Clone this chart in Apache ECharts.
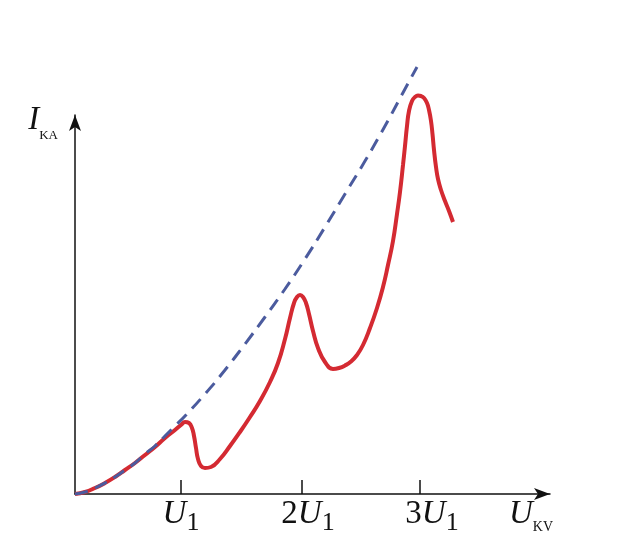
<!DOCTYPE html>
<html>
<head>
<meta charset="utf-8">
<script src="https://cdn.jsdelivr.net/npm/echarts@6/dist/echarts.min.js"></script>
<style>html,body{margin:0;padding:0;background:#fff}#c{width:625px;height:547px}</style>
</head>
<body>
<div id="c"></div>
<script>
// Voltage positions of the tick marks (arbitrary units) and their labels
const tickValues = [106, 227, 345];
const tickLabels = ['{u|U}{s|1}', '{n2|2}{u|U}{s|1}', '{n3|3}{u|U}{s|1}'];

// Measured anode current (red curve): [U, I]
const currentCurve = [
  [0,0],[10,2],[20,6],[30,11],[40,17],[50,24],[60,31],[70,39],[80,47],[90,56],[100,64],
  [106,69],[110,72],[114,71],[117,66],[119,58],[121,46],[123,35],[126,28],[130,26],[136,27],
  [145,35],[155,48],[165,62],[175,77],[185,93],[195,112],[203,131],[210,155],[215,176],
  [219,191],[222,197],[225,199],[228,197],[231,191],[234,180],[238,163],[243,146],[250,132],
  [258,125],[264,126],[270,128.5],[276,132.5],[282,139],[288,149],[295,166],[302,186],[308,207],
  [313,229],[318,253],[322,280],[325,302],[328,329],[330,348],[332,368],[334,383],[337,393],
  [340,397],[343,398.5],[346,398],[349,396],[352,391],[354,384],[356,373],[357.5,360],[359,344],
  [361,327],[363,315],[366,304],[370,293],[374,283],[378,272]
];

// Space-charge limited current without collisions (blue dashed curve): [U, I]
const idealCurve = [
  [0,0],[10,2],[20,6],[30,11],[40,17],[50,24],[60,31],[70,40],[80,48],[90,58],[100,68],
  [110,78],[130,100],[150,124],[170,150],[190,177],[210,205],[230,235],[250,267],[270,300],
  [290,333],[310,368],[330,405],[342,427]
];

const serif = '"Liberation Serif","DejaVu Serif",serif';
const chart = echarts.init(document.getElementById('c'), null, {renderer: 'canvas'});
chart.setOption({
  animation: false,
  backgroundColor: '#ffffff',
  grid: {left: 75, top: 115, width: 475, height: 379, containLabel: false},
  xAxis: {
    type: 'value', min: 0, max: 475,
    name: '{u|U}{s|KV}',
    nameLocation: 'end',
    nameGap: 3,
    nameTextStyle: {
      align: 'right', verticalAlign: 'top',
      rich: {
        u: {fontFamily: serif, fontStyle: 'italic', fontSize: 33, color: '#111', padding: [4, 0, 0, 0], verticalAlign: 'top'},
        s: {fontFamily: serif, fontSize: 14, color: '#111', padding: [26, 0, 0, 0], verticalAlign: 'top'}
      }
    },
    axisLine: {show: true, symbol: ['none', 'arrow'], symbolSize: [9, 16], lineStyle: {color: '#111', width: 1.5}},
    axisTick: {show: true, inside: true, length: 14, customValues: tickValues, lineStyle: {color: '#111', width: 1.5}},
    axisLabel: {
      show: true, margin: 0, customValues: tickValues,
      formatter: function (v) { const i = tickValues.indexOf(v); return i >= 0 ? tickLabels[i] : ''; },
      rich: {
        u: {fontFamily: serif, fontStyle: 'italic', fontSize: 33, color: '#111', padding: [4, 0, 0, 0], verticalAlign: 'top'},
        n2: {fontFamily: serif, fontSize: 33, color: '#111', padding: [4, 0, 0, 12], verticalAlign: 'top'},
        n3: {fontFamily: serif, fontSize: 33, color: '#111', padding: [4, 0, 0, 24], verticalAlign: 'top'},
        s: {fontFamily: serif, fontSize: 26, color: '#111', padding: [16, 0, 0, 0], verticalAlign: 'top'}
      }
    },
    splitLine: {show: false}
  },
  yAxis: {
    type: 'value', min: 0, max: 379,
    name: '{u|I}{s|KA}',
    nameLocation: 'end',
    nameGap: 11,
    nameTextStyle: {
      align: 'right', verticalAlign: 'top', padding: [0, 17, 0, 0],
      rich: {
        u: {fontFamily: serif, fontStyle: 'italic', fontSize: 33, color: '#111', verticalAlign: 'top'},
        s: {fontFamily: serif, fontSize: 13, color: '#111', padding: [25, 0, 0, 0], verticalAlign: 'top'}
      }
    },
    axisLine: {show: true, symbol: ['none', 'arrow'], symbolSize: [9, 16], lineStyle: {color: '#111', width: 1.5}},
    axisTick: {show: false},
    axisLabel: {show: false},
    splitLine: {show: false}
  },
  series: [
    {
      type: 'line', data: currentCurve, smooth: 0.5, showSymbol: false, clip: false,
      lineStyle: {color: '#d42a32', width: 4}, z: 2
    },
    {
      type: 'line', data: idealCurve, smooth: 0.5, showSymbol: false, clip: false,
      lineStyle: {color: '#4b5b9e', width: 3, type: [13, 8]}, z: 3
    }
  ]
});
</script>
</body>
</html>
